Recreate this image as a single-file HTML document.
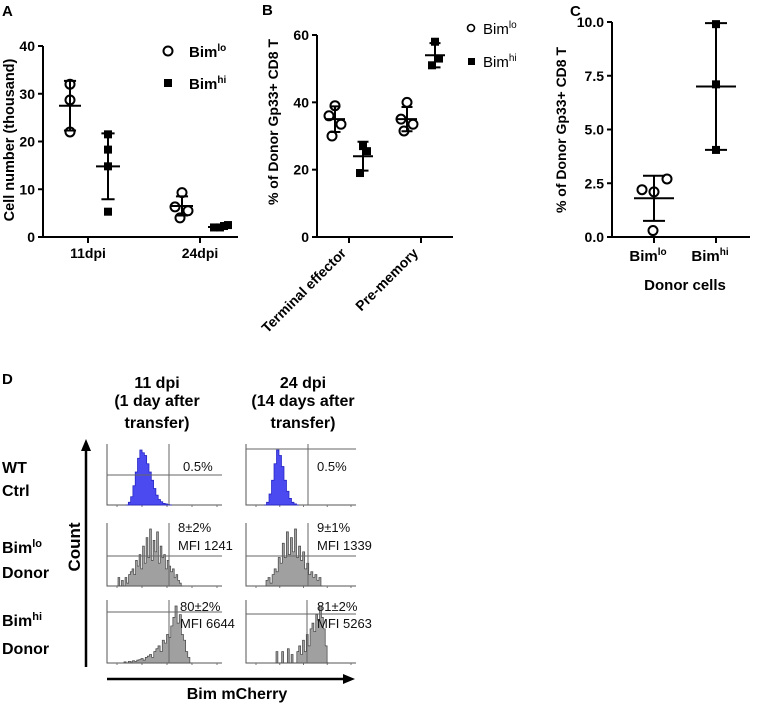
<!DOCTYPE html>
<html><head><meta charset="utf-8">
<style>
html,body{margin:0;padding:0;background:#fff;}
svg{display:block;font-family:"Liberation Sans",Arial,sans-serif;}
.b{font-weight:bold;}
</style></head>
<body>
<svg id="fig" width="758" height="703" viewBox="0 0 758 703" xmlns="http://www.w3.org/2000/svg">
  <text x="2" y="16" class="b" font-size="15">A</text>
  <text x="262" y="15" class="b" font-size="15">B</text>
  <text x="570" y="16" class="b" font-size="15">C</text>
  <text x="2" y="384" class="b" font-size="15">D</text>

  <g id="chartA"></g>
  <g id="chartB"></g>
  <g id="chartC"></g>
  <g id="panelD"></g>

  <text x="14" y="140" class="b" font-size="14.5" text-anchor="middle" transform="rotate(-90 14 140)">Cell number (thousand)</text>
  <circle cx="168" cy="51" r="4.5" fill="#fff" stroke="#000" stroke-width="2"/>
  <text x="189" y="57" class="b" font-size="15">Bim<tspan font-size="10" dy="-6">lo</tspan></text>
  <rect x="164" y="79" width="8" height="8" fill="#000"/>
  <text x="189" y="89" class="b" font-size="15">Bim<tspan font-size="10" dy="-6">hi</tspan></text>

  <text x="278" y="122" class="b" font-size="14" text-anchor="middle" transform="rotate(-90 278 122)">% of Donor Gp33+ CD8 T</text>
  <circle cx="471" cy="28" r="3.5" fill="#fff" stroke="#000" stroke-width="1.6"/>
  <text x="483" y="34" font-size="15">Bim<tspan font-size="10" dy="-6">lo</tspan></text>
  <rect x="468" y="58" width="7" height="7" fill="#000"/>
  <text x="483" y="67" font-size="15">Bim<tspan font-size="10" dy="-6">hi</tspan></text>

  <text x="566" y="130" class="b" font-size="14" text-anchor="middle" transform="rotate(-90 566 130)">% of Donor Gp33+ CD8 T</text>
  <text x="685" y="290" class="b" font-size="15" text-anchor="middle">Donor cells</text>

  <g class="b" font-size="16" text-anchor="middle">
    <text x="157" y="388">11 dpi</text>
    <text x="157" y="406">(1 day after</text>
    <text x="157" y="428">transfer)</text>
    <text x="303" y="388">24 dpi</text>
    <text x="303" y="406">(14 days after</text>
    <text x="303" y="428">transfer)</text>
  </g>
  <g class="b" font-size="16">
    <text x="2" y="473">WT</text>
    <text x="2" y="496">Ctrl</text>
    <text x="2" y="553">Bim<tspan font-size="11" dy="-6">lo</tspan></text>
    <text x="2" y="578">Donor</text>
    <text x="2" y="626">Bim<tspan font-size="11" dy="-6">hi</tspan></text>
    <text x="2" y="654">Donor</text>
  </g>
  <line x1="86" y1="667" x2="86" y2="448" stroke="#000" stroke-width="2.5"/>
  <polygon points="86,439 81,451 91,451" fill="#000"/>
  <text x="80" y="547" class="b" font-size="17" text-anchor="middle" transform="rotate(-90 80 547)">Count</text>
  <line x1="107" y1="679" x2="345" y2="679" stroke="#000" stroke-width="2.5"/>
  <polygon points="355,679 343,674 343,684" fill="#000"/>
  <text x="237" y="699" class="b" font-size="16" text-anchor="middle">Bim mCherry</text>
</svg>
<script>
const NS='http://www.w3.org/2000/svg';
function mk(parent,tag,attrs){const e=document.createElementNS(NS,tag);for(const k in attrs)e.setAttribute(k,attrs[k]);parent.appendChild(e);return e;}

/* ---------- Panel A data ---------- */
const aCategories=['11dpi','24dpi'];
const aTicks=[0,10,20,30,40];
const aBimLo=[[32,28.7,22],[9.3,6.3,5.5,4]];
const aBimHi=[[21.5,18.3,14.8,5.3],[2,2,2.3,2.5]];
const aLoMean=[27.5,6.5];
const aLoSD=[5.2,2];
const aHiMean=[14.8,2.1];
const aHiSD=[6.9,0.3];

/* ---------- Panel B data ---------- */
const bCategories=['Terminal effector','Pre-memory'];
const bTicks=[0,20,40,60];
const bBimLo=[[39,36,33.5,30],[40,35,33.5,31.5]];
const bBimHi=[[27,25.5,19],[58,53,51]];
const bLoMean=[35,35];
const bLoSD=[3.8,3.6];
const bHiMean=[24,54];
const bHiSD=[4.3,3.6];

/* ---------- Panel C data ---------- */
const cCategories=['lo','hi'];
const cTicks=[0,2.5,5,7.5,10];
const cTickLabels=['0.0','2.5','5.0','7.5','10.0'];
const cBimLo=[2.7,2.2,2.1,0.3];
const cBimHi=[9.9,7.1,4.05];
const cMean=[1.8,7];
const cSD=[1.05,2.95];

function yScale(y0,y1,v0,v1){return v=>y0+(v-v0)*(y1-y0)/(v1-v0);}

function axes(g,x0,x1,y0,y1,ticks,labels,y,name){
  const ax=mk(g,'path',{d:`M${x0},${y1} V${y0} H${x1}`,fill:'none',stroke:'#000','stroke-width':2});
  
  
  ticks.forEach((t,i)=>{
    const yy=y(t);
    const tl=mk(g,'line',{x1:x0-5,x2:x0,y1:yy,y2:yy,stroke:'#000','stroke-width':2});
    
    
    const tx=mk(g,'text',{x:x0-8,y:yy+5,'text-anchor':'end','font-size':14,'font-weight':'bold'});
    tx.textContent=labels[i];
    
    
  });
}
function errbar(g,x,mean,sd,y,w,name){
  const p=mk(g,'path',{d:`M${x-w},${y(mean)} H${x+w} M${x},${y(mean+sd)} V${y(mean-sd)} M${x-w*0.55},${y(mean+sd)} H${x+w*0.55} M${x-w*0.55},${y(mean-sd)} H${x+w*0.55}`,stroke:'#000','stroke-width':2,fill:'none'});
  
  
}
function points(g,x,vals,y,type,r,name,spread){
  vals.forEach((v,i)=>{
    const off=spread?spread[i%spread.length]:0;
    let e;
    if(type==='o') e=mk(g,'circle',{cx:x+off,cy:y(v),r:r,fill:'#fff',stroke:'#000','stroke-width':2});
    else e=mk(g,'rect',{x:x+off-r,y:y(v)-r,width:2*r,height:2*r,fill:'#000'});
    
    
  });
}

(function(){
  const g=document.getElementById('chartA');
  const y=yScale(237,46,0,40);
  axes(g,43,238,237,46,aTicks,aTicks.map(String),y,'panel-a');
  const cx=[88,200];
  aCategories.forEach((c,i)=>{
    const t=mk(g,'line',{x1:cx[i],x2:cx[i],y1:237,y2:243,stroke:'#000','stroke-width':2});
    
    
    const tx=mk(g,'text',{x:cx[i],y:258,'text-anchor':'middle','font-size':14,'font-weight':'bold'});
    tx.textContent=c;
    
    
    const xl=cx[i]-18, xh=cx[i]+20;
    points(g,xl,aBimLo[i],y,'o',4.5,'bimlo-point-a',i===0?[0,0,0]:[0,-7,6,-2]);
    points(g,xh,aBimHi[i],y,'s',4,'bimhi-point-a',i===0?[0,0,0,0]:[-6,0,4,8]);
    errbar(g,xl,aLoMean[i],aLoSD[i],y,11,'bimlo-errorbar-a');
    errbar(g,xh,aHiMean[i],aHiSD[i],y,12,'bimhi-errorbar-a');
  });
})();

(function(){
  const g=document.getElementById('chartB');
  const y=yScale(237,35,0,60);
  axes(g,317,453,237,35,bTicks,bTicks.map(String),y,'panel-b');
  const cx=[349,421];
  bCategories.forEach((c,i)=>{
    const t=mk(g,'line',{x1:cx[i],x2:cx[i],y1:237,y2:243,stroke:'#000','stroke-width':2});
    
    
    const tx=mk(g,'text',{x:cx[i]-2,y:254,'text-anchor':'end','font-size':14,'font-weight':'bold',transform:`rotate(-45 ${cx[i]-2} 254)`});
    tx.textContent=c;
    
    
    const xl=cx[i]-14, xh=cx[i]+14;
    points(g,xl,bBimLo[i],y,'o',4.5,'bimlo-point-b',[0,-6,6,-3]);
    points(g,xh,bBimHi[i],y,'s',4,'bimhi-point-b',[0,4,-3]);
    errbar(g,xl,bLoMean[i],bLoSD[i],y,10,'bimlo-errorbar-b');
    errbar(g,xh,bHiMean[i],bHiSD[i],y,10,'bimhi-errorbar-b');
  });
})();

(function(){
  const g=document.getElementById('chartC');
  const y=yScale(237,22,0,10);
  axes(g,612,750,237,22,cTicks,cTickLabels,y,'panel-c');
  const cx=[654,716];
  cCategories.forEach((c,i)=>{
    const t=mk(g,'line',{x1:cx[i],x2:cx[i],y1:237,y2:243,stroke:'#000','stroke-width':2});
    
    
    const tx=mk(g,'text',{x:cx[i]-6,y:261,'text-anchor':'middle','font-size':15,'font-weight':'bold'});
    tx.innerHTML='Bim<tspan font-size="10" dy="-6">'+c+'</tspan>';
    
    
  });
  points(g,cx[0],cBimLo,y,'o',4.5,'bimlo-point-c',[13,-12,0,-1]);
  points(g,cx[1],cBimHi,y,'s',4,'bimhi-point-c',[0,0,0]);
  errbar(g,cx[0],cMean[0],cSD[0],y,20,'bimlo-errorbar-c');
  errbar(g,cx[1],cMean[1],cSD[1],y,20,'bimhi-errorbar-c');
})();

/* ---------- Panel D histogram data (relative bin heights) ---------- */
const hWt11=[0,.05,.15,.35,.6,.85,1,.95,.9,.75,.6,.45,.3,.18,.1,.06,.03,.02,.01,0];
const hWt24=[0,.05,.2,.45,.75,1,.9,.7,.45,.25,.12,.05,.02,0];
const hLo11=[.15,0,.1,0,.15,.05,.2,.25,.3,.2,.45,.35,.55,.3,.7,.4,.85,.5,1,.45,.8,.6,.95,.4,.7,.5,.55,.3,.45,.35,.25,.3,.15,.2,.1,.05,0];
const hLo24=[.1,.15,.05,.2,.3,.25,.5,.4,.75,.5,.95,.55,.85,.6,1,.5,.7,.45,.6,.3,.4,.2,.25,.15,.2,.1,.15,0];
const hHi11=[.02,0,.03,.02,.04,.03,.05,.06,.08,.05,.1,.12,.15,.1,.2,.25,.3,.2,.4,.35,.5,.45,.65,.8,1,.7,.85,.5,.4,.2,.1,0];
const hHi24=[.2,0,0,.2,0,0,.25,0,.15,0,0,.2,.3,.15,.4,.2,.5,.3,.6,.7,.55,.85,.75,1,.8,.6,.3,0];
const dPercent=['0.5%','0.5%','8±2%','9±1%','80±2%','81±2%'];
const dMfi=['','','MFI 1241','MFI 1339','MFI 6644','MFI 5263'];

(function(){
  const g=document.getElementById('panelD');
  const cols=[{x0:107,x1:222},{x0:246,x1:356}];
  const rows=[{top:444,bot:505},{top:523,bot:586},{top:600,bot:663}];
  const hists=[hWt11,hWt24,hLo11,hLo24,hHi11,hHi24];
  const ranges=[[126,172],[264,299],[118,183],[266,323],[124,192],[276,329]];
  const vlines=[169,308,169,308,169,307];
  const hlines=[475,449,556,556,612,614];
  const textY=[[466],[527,545],[606,623]];
  const tx=[183,317,178,317,180,317];
  for(let r=0;r<3;r++)for(let c=0;c<2;c++){
    const k=r*2+c, col=cols[c], row=rows[r];
    const ax=mk(g,'path',{d:`M${col.x0},${row.top} V${row.bot} H${col.x1}`,fill:'none',stroke:'#555','stroke-width':1});
    
    
    for(let t=0;t<5;t++){
      const xx=col.x0+10+t*(col.x1-col.x0-15)/4;
      const tk=mk(g,'line',{x1:xx,x2:xx,y1:row.bot,y2:row.bot+2,stroke:'#777','stroke-width':1});
      
      
    }
    const h=hists[k], [a,b]=ranges[k], bw=(b-a)/h.length, H=row.bot-row.top-6;
    let d=`M${a},${row.bot}`;
    h.forEach((v,i)=>{const yy=row.bot-v*H;d+=` V${yy} H${a+(i+1)*bw}`;});
    d+=` V${row.bot} Z`;
    const blue=r===0;
    const p=mk(g,'path',{d:d,fill:blue?'#4a4af0':'#a0a0a0',stroke:blue?'#2020c0':'#444','stroke-width':0.7});
    
    
    const vl=mk(g,'line',{x1:vlines[k],x2:vlines[k],y1:row.top,y2:row.bot,stroke:'#666','stroke-width':1});
    
    
    const hl=mk(g,'line',{x1:col.x0,x2:col.x1,y1:hlines[k],y2:hlines[k],stroke:'#666','stroke-width':1});
    
    
    const ys=textY[r];
    const t1=mk(g,'text',{x:tx[k],y:ys[0]+5,'font-size':13,fill:'#111'});
    t1.textContent=dPercent[k];
    
    
    if(dMfi[k]){
      const t2=mk(g,'text',{x:tx[k],y:ys[1]+5,'font-size':13,fill:'#111'});
      t2.textContent=dMfi[k];
      
      
    }
  }
})();
</script>
</body></html>
